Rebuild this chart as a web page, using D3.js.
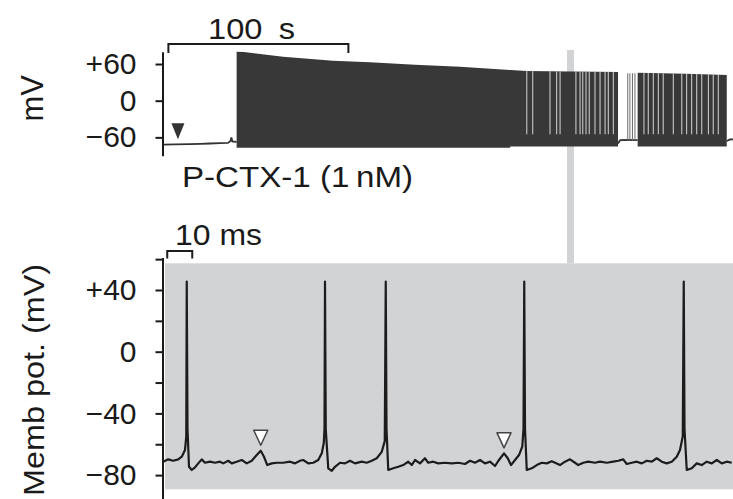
<!DOCTYPE html>
<html lang="en">
<head>
  <meta charset="UTF-8">
  <title>P-CTX-1 membrane potential</title>
  <script src="https://d3js.org/d3.v7.min.js"></script>
  <style>
    body {
      margin: 0;
      background: #fff;
    }
    svg text {
      font-family: "Liberation Sans", Arial, Helvetica, sans-serif;
      fill: #1a1a1a;
    }
    .axis path, .axis line {
      stroke: #1a1a1a;
      stroke-width: 2px;
    }
    .axis text {
      font-size: 30px;
    }
  </style>
</head>
<body>
  <svg width="733" height="499"></svg>

  <script>
    // ---- data ----
    // top panel: slow recording, time in s, potential in mV
    const topTicks = [60, 0, -60];
    const topTickLabels = ["+60", "0", "\u221260"];

    const preToxinBaseline = [
      [0, -72], [6.7, -71.5], [15, -71], [20.6, -70.5], [26.1, -70], [31.7, -69.5],
      [36.1, -69], [37.5, -66], [38, -60], [38.6, -67], [40, -67], [40.9, -68]
    ];
    // [time, envelope top, envelope bottom] of the spiking band
    const burstOne = [
      [40.9, 80, -77], [45, 79.5, -77], [66.7, 72, -77], [94.4, 65.5, -77], [115, 62.8, -77],
      [140, 59, -77], [165, 55.6, -77], [192.8, 50.2, -77], [193, 50.2, -75], [202.2, 48.6, -75],
      [252.8, 47, -75]
    ];
    const burstTwo = [[263.7, 45.8, -75], [290, 44, -75], [313.2, 42, -75]];
    const interBurstBaseline = [[252.8, -70], [254, -64.5], [258, -64], [263.7, -64.5]];
    const trailingBaseline = [[313.2, -66], [315, -63.5], [318, -63]];
    const isolatedSpikes = [258.2, 259.4, 260.8, 262.2];
    const spikePeakMV = 45;
    const pauses = [
      202.1, 205.4, 215, 218.7, 220.6, 229.4, 231.7, 233.2, 235, 236.8, 240, 242.8, 245.6, 247.4, 250.2,
      267.2, 269.6, 272.4, 275.2, 277.9, 283.5, 288.2, 290.9, 293.7, 296.5, 299.3, 303.0, 305.7, 308.5
    ];
    const toxinMark = [8.3, -71.2];
    const zoomTime = 226.4;
    const topScaleBar = [3, 103]; // 100 s

    // bottom panel: expanded trace, time in ms, potential in mV
    const bottomTicks = [40, 0, -40, -80];
    const bottomTickLabels = ["+40", "0", "\u221240", "\u221280"];
    const bottomMinorTicks = [60, 20, -20, -60];
    const insetTime = [0.8, 228];
    const insetMV = [-89.2, 57.3];
    const bottomScaleBar = [1.7, 11.7]; // 10 ms

    const membTrace = [
      [0.1, -71.3], [2.1, -69.8], [4.1, -70.7], [6.1, -69.8], [7.5, -68.1], [8.8, -63.7],
      [9.3, -55], [9.5, 45.4], [9.8, -50], [10.4, -74.6], [11.5, -76.7], [12.8, -75.0],
      [14.1, -72.4], [15.5, -69.8], [16.8, -72.0], [18.8, -71.3], [20.8, -72.0], [22.8, -71.3],
      [24.1, -72.4], [26.1, -70.7], [27.5, -72.4], [29.5, -71.3], [31.5, -70.2], [33.5, -72.4],
      [35.5, -70.7], [37.5, -67.0], [39.1, -64.2], [40.4, -68.1], [41.7, -73.5], [43.5, -72.4],
      [45.5, -72.0], [48.1, -72.0], [50.8, -71.3], [52.8, -72.4], [54.8, -70.7], [56.1, -70.2],
      [58.1, -72.4], [60.1, -72.0], [62.1, -70.2], [63.5, -65.9], [64.3, -59.4],
      [64.6, -50], [64.8, 45.4], [65.1, -50], [66.1, -75.6], [67.5, -77.2], [68.8, -74.6],
      [70.8, -72.0], [72.8, -72.4], [74.8, -70.7], [76.8, -72.4], [79.5, -71.3], [81.5, -72.0],
      [83.5, -70.7], [85.5, -69.1], [87.5, -64.9], [88.7, -58],
      [89.1, 45.4], [89.4, -50], [90.1, -76.7], [92.1, -75.6], [94.1, -74.6], [96.1, -73.5],
      [98.1, -71.3], [99.5, -73.5], [100.8, -70.2], [102.8, -72.4], [104.8, -69.1], [106.1, -72.0],
      [108.1, -71.3], [110.1, -72.4], [112.8, -72.0], [115.5, -72.4], [118.1, -72.0], [120.8, -72.8],
      [122.8, -70.7], [124.8, -72.0], [126.8, -70.2], [128.8, -72.4], [130.8, -71.3], [132.8, -74.1],
      [134.4, -70.2], [136.4, -65.9], [137.9, -69.1], [139.2, -73.5], [140.8, -70.2], [142.4, -67.0],
      [143.7, -61.6], [144.2, -50],
      [144.5, 45.4], [144.8, -50], [145.5, -76.7], [147.5, -75.6], [149.5, -73.5], [151.5, -72.0],
      [153.5, -72.4], [155.5, -71.0], [158.8, -73.5], [160.8, -71.3], [162.8, -69.8], [164.8, -72.0],
      [166.1, -73.5], [168.1, -72.0], [170.1, -71.3], [172.8, -72.0], [174.8, -71.3], [177.5, -72.0],
      [180.1, -71.3], [182.1, -70.7], [184.1, -69.8], [185.5, -72.8], [187.5, -72.0], [189.5, -71.3],
      [191.5, -72.4], [193.5, -70.7], [195.5, -71.3], [197.5, -69.1], [199.5, -71.3], [201.5, -72.4],
      [203.5, -71.3], [205.5, -68.1], [206.8, -63.7], [207.9, -55],
      [208.3, 45.4], [208.6, -50], [209.5, -76.7], [211.5, -75.6], [213.5, -72.4], [215.5, -73.5],
      [217.5, -71.3], [219.5, -72.4], [221.5, -70.2], [223.5, -72.4], [225.5, -71.3], [227.5, -72.0]
    ];
    const epspPeaks = [[39.1, -64.2], [136.4, -65.9]];

    // ---- drawing ----
    const svg = d3.select("svg");
    const width = +svg.attr("width");
    const height = +svg.attr("height");

    const xTop = d3.scaleLinear().domain([0, 100]).range([163, 343]);
    const yTop = d3.scaleLinear().domain([-90, 80]).range([155.7, 51.8]);
    const xBot = d3.scaleLinear().domain([0, 10]).range([163, 188]);
    const yBot = d3.scaleLinear().domain([-100, 61]).range([505.95, 257.6]);

    const gray = "#d2d3d5";
    const ink = "#1c1c1c";

    // grey inset background and the bar marking where it was taken
    svg.append("rect")
      .attr("x", xBot(insetTime[0]))
      .attr("y", yBot(insetMV[1]))
      .attr("width", xBot(insetTime[1]) - xBot(insetTime[0]))
      .attr("height", yBot(insetMV[0]) - yBot(insetMV[1]))
      .attr("fill", gray);

    svg.append("rect")
      .attr("x", xTop(zoomTime) - 3.5)
      .attr("y", 50)
      .attr("width", 7)
      .attr("height", yBot(insetMV[1]) - 50)
      .attr("fill", gray);

    // top trace
    const topLine = d3.line().x(d => xTop(d[0])).y(d => yTop(d[1]));
    const band = d3.area().x(d => xTop(d[0])).y0(d => yTop(d[2])).y1(d => yTop(d[1]));

    [preToxinBaseline, interBurstBaseline, trailingBaseline].forEach(seg => {
      svg.append("path")
        .attr("d", topLine(seg))
        .attr("fill", "none")
        .attr("stroke", "#333")
        .attr("stroke-width", 1.8);
    });

    const clip = svg.append("clipPath").attr("id", "bandClip");
    [burstOne, burstTwo].forEach(seg => {
      svg.append("path")
        .attr("d", band(seg))
        .attr("fill", "#383838");
      clip.append("path").attr("d", band(seg));
    });

    svg.append("g")
      .attr("clip-path", "url(#bandClip)")
      .selectAll("line")
      .data(pauses)
      .join("line")
      .attr("x1", d => xTop(d))
      .attr("x2", d => xTop(d))
      .attr("y1", yTop(85))
      .attr("y2", yTop(-55))
      .attr("stroke", "#c8c8c8")
      .attr("stroke-width", 1.1);

    svg.append("g")
      .selectAll("line")
      .data(isolatedSpikes)
      .join("line")
      .attr("x1", d => xTop(d))
      .attr("x2", d => xTop(d))
      .attr("y1", yTop(-66))
      .attr("y2", yTop(spikePeakMV))
      .attr("stroke", "#6a6a6a")
      .attr("stroke-width", 1);

    // filled arrowhead for toxin application
    svg.append("path")
      .attr("transform", `translate(${xTop(toxinMark[0])},${yTop(toxinMark[1]) - 5})`)
      .attr("d", "M-6.5,-16L6.5,-16L0,0Z")
      .attr("fill", "#333");

    // top axis
    svg.append("g")
      .attr("class", "axis")
      .attr("transform", "translate(162.5,0)")
      .call(d3.axisLeft(yTop)
        .tickValues(topTicks)
        .tickFormat((d, i) => topTickLabels[i])
        .tickSize(7)
        .tickSizeOuter(0)
        .tickPadding(19));

    svg.append("text")
      .attr("transform", "translate(43,75) rotate(-90)")
      .attr("text-anchor", "end")
      .attr("font-size", 31)
      .text("mV");

    // 100 s scale bar
    svg.append("path")
      .attr("d", `M${xTop(topScaleBar[0])},53V44H${xTop(topScaleBar[1])}V53`)
      .attr("fill", "none")
      .attr("stroke", ink)
      .attr("stroke-width", 2);
    svg.append("text")
      .attr("x", 208)
      .attr("y", 39)
      .attr("font-size", 30)
      .attr("textLength", 87)
      .attr("lengthAdjust", "spacingAndGlyphs")
      .text("100\u2002s");

    svg.append("text")
      .attr("x", 182)
      .attr("y", 187)
      .attr("font-size", 29)
      .attr("textLength", 231)
      .attr("lengthAdjust", "spacingAndGlyphs")
      .text("P-CTX-1 (1\u2009nM)");

    // bottom trace
    const botLine = d3.line().x(d => xBot(d[0])).y(d => yBot(d[1]));
    svg.append("path")
      .attr("d", botLine(membTrace))
      .attr("fill", "none")
      .attr("stroke", ink)
      .attr("stroke-width", 2.2)
      .attr("stroke-linejoin", "round");

    svg.append("g")
      .selectAll("path")
      .data(epspPeaks)
      .join("path")
      .attr("transform", d => `translate(${xBot(d[0])},${yBot(d[1]) - 5.5})`)
      .attr("d", "M-7,-15L7,-15L0,0Z")
      .attr("fill", "#fff")
      .attr("stroke", "#444")
      .attr("stroke-width", 1.5)
      .attr("stroke-linejoin", "round");

    // bottom axis
    svg.append("g")
      .attr("class", "axis")
      .attr("transform", "translate(162.5,0)")
      .call(d3.axisLeft(yBot)
        .tickValues(bottomTicks)
        .tickFormat((d, i) => bottomTickLabels[i])
        .tickSize(7)
        .tickSizeOuter(0)
        .tickPadding(19));

    svg.append("g")
      .attr("class", "axis")
      .attr("transform", "translate(162.5,0)")
      .call(d3.axisLeft(yBot)
        .tickValues(bottomMinorTicks)
        .tickFormat("")
        .tickSize(7))
      .call(g => g.select(".domain").remove());

    svg.append("text")
      .attr("transform", "translate(43.5,264) rotate(-90)")
      .attr("text-anchor", "end")
      .attr("font-size", 30)
      .attr("textLength", 232)
      .attr("lengthAdjust", "spacingAndGlyphs")
      .text("Memb pot. (mV)");

    // 10 ms scale bar
    svg.append("path")
      .attr("d", `M${xBot(bottomScaleBar[0])},258.5V251H${xBot(bottomScaleBar[1])}V258.5`)
      .attr("fill", "none")
      .attr("stroke", ink)
      .attr("stroke-width", 2);
    svg.append("text")
      .attr("x", 175)
      .attr("y", 245)
      .attr("font-size", 30)
      .attr("textLength", 87)
      .attr("lengthAdjust", "spacingAndGlyphs")
      .text("10 ms");
  </script>
</body>
</html>
